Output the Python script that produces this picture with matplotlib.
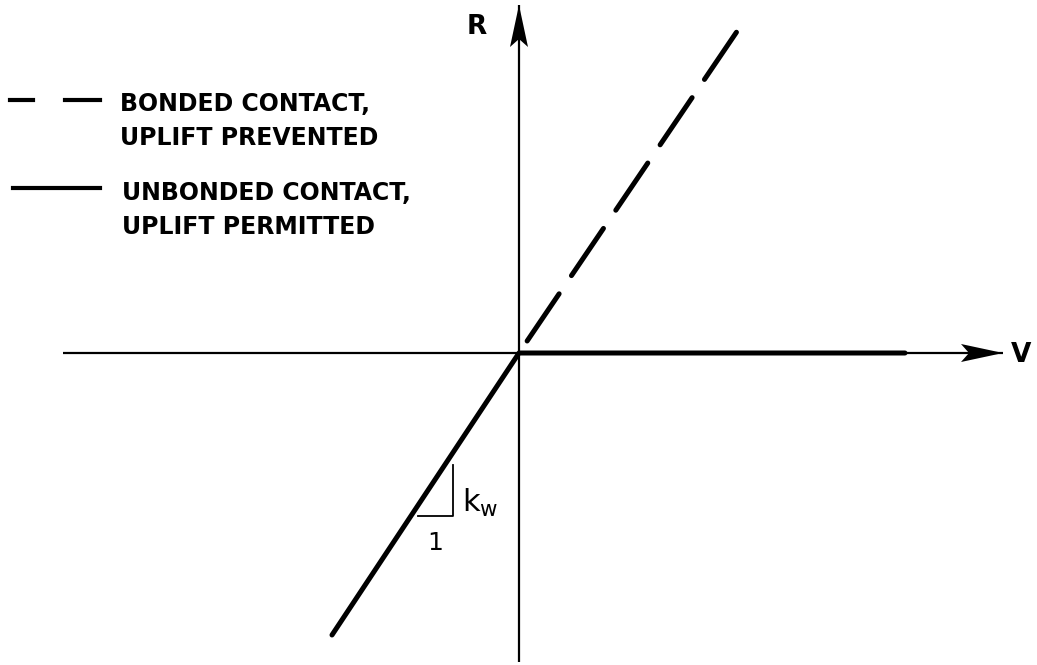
import matplotlib.pyplot as plt
from matplotlib.patches import Polygon

plt.rcParams['font.family'] = ['DejaVu Sans']
plt.rcParams['mathtext.default'] = 'regular'

# load-deflection relation, plotted in figure pixel units (origin at axes crossing)
bonded_v = [0, 221]
bonded_r = [0, 326]
unbonded_v = [-187, 0, 386]
unbonded_r = [-282, 0, 0]

# axis extents
v_axis = [-456, 484]
r_axis = [-309, 348]

legend_labels = ["BONDED CONTACT,\nUPLIFT PREVENTED",
                 "UNBONDED CONTACT,\nUPLIFT PERMITTED"]

fig = plt.figure(figsize=(10.37, 6.65), dpi=100)
ax = fig.add_axes([0, 0, 1, 1])
ax.set_xlim(-519, 518)
ax.set_ylim(-312, 353)
ax.set_aspect('equal')
ax.axis('off')

# axes lines
ax.plot(v_axis, [0, 0], color='black', lw=1.6, solid_capstyle='butt')
ax.plot([0, 0], r_axis, color='black', lw=1.6, solid_capstyle='butt')


def arrow_head(tip, direction, length=42, half=9, notch=8):
    dx, dy = direction
    px, py = -dy, dx
    tx, ty = tip
    bx, by = tx - dx * length, ty - dy * length
    pts = [(tx, ty),
           (bx + px * half, by + py * half),
           (bx + dx * notch, by + dy * notch),
           (bx - px * half, by - py * half)]
    ax.add_patch(Polygon(pts, closed=True, color='black', lw=0))


arrow_head((v_axis[1], 0), (1, 0))
arrow_head((0, r_axis[1]), (0, 1))

ax.text(502, -2, "V", fontsize=19, fontweight='bold', ha='center', va='center')
ax.text(-42, 326, "R", fontsize=19, fontweight='bold', ha='center', va='center')

# bonded (dashed) and unbonded (solid) response
ax.plot(bonded_v, bonded_r, color='black', lw=3.6,
        linestyle=(12.9, (11.4, 4.4)), dash_capstyle='round')
ax.plot(unbonded_v, unbonded_r, color='black', lw=3.6,
        solid_capstyle='round', solid_joinstyle='round')

# slope triangle
ax.plot([-101, -66, -66], [-163, -163, -112], color='black', lw=1.3)
ax.text(-57, -150, r"$k_w$", fontsize=22, ha='left', va='center')
ax.text(-84, -190, "1", fontsize=18, ha='center', va='center')

# legend
ax.plot([-509, -486], [253, 253], color='black', lw=3)
ax.plot([-454, -419], [253, 253], color='black', lw=3)
ax.plot([-506, -419], [165, 165], color='black', lw=3)
ax.text(-399, 232, legend_labels[0], fontsize=17, fontweight='bold',
        ha='left', va='center', linespacing=1.53)
ax.text(-397, 143, legend_labels[1], fontsize=17, fontweight='bold',
        ha='left', va='center', linespacing=1.53)

fig.savefig('out.png', dpi=100)
